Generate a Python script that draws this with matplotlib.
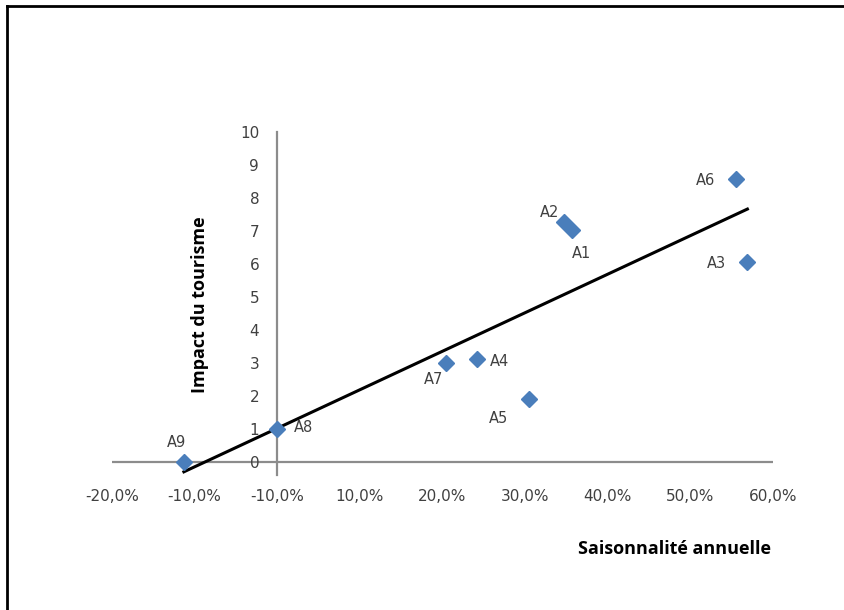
import matplotlib
matplotlib.use("Agg")
import matplotlib.pyplot as plt
from matplotlib.lines import Line2D
import numpy as np

plt.rcParams['font.family'] = ['DejaVu Sans']

names = ["A1", "A2", "A3", "A4", "A5", "A6", "A7", "A8", "A9"]
saison = [35.7, 34.75, 56.9, 24.2, 30.5, 55.5, 20.4, 0.0, -11.3]   # %
impact = [7.03, 7.27, 6.06, 3.12, 1.9, 8.58, 3.0, 1.0, 0.0]
label_offsets = {  # points
    "A1": (7, -17), "A2": (-11, 7), "A3": (-22, -1), "A4": (16, -2),
    "A5": (-22, -14), "A6": (-22, -1), "A7": (-9, -12), "A8": (19, 1),
    "A9": (-5, 14),
}
xticks = [-20, -10, 0, 10, 20, 30, 40, 50, 60]
xticklabels = ["-20,0%", "-10,0%", "-10,0%", "10,0%", "20,0%", "30,0%",
               "40,0%", "50,0%", "60,0%"]
yticks = list(range(0, 11))

W, H = 844, 610
fig = plt.figure(figsize=(W / 100, H / 100), dpi=100)
ax = fig.add_axes([112 / W, 1 - 475 / H, 661 / W, 343 / H])
ax.set_xlim(-20, 60)
ax.set_ylim(-0.4, 10)

axis_col = "#8c8c8c"
tick_col = "#404040"
for s in ["top", "right", "bottom"]:
    ax.spines[s].set_visible(False)
ax.spines["left"].set_position(("data", 0))
ax.spines["left"].set_color(axis_col)
ax.spines["left"].set_linewidth(1.6)
ax.axhline(0, color=axis_col, lw=1.6, zorder=1)

ax.set_xticks(xticks)
ax.set_xticklabels(xticklabels)
ax.set_yticks(yticks)
ax.tick_params(axis="x", length=0, pad=10, labelsize=11, labelcolor=tick_col)
ax.tick_params(axis="y", length=0, pad=13, labelsize=11, labelcolor=tick_col)

# trend line (linear regression)
x = np.array(saison)
y = np.array(impact)
a, b = np.polyfit(x, y, 1)
xl = np.array([x.min(), x.max()])
ax.plot(xl, a * xl + b, color="black", lw=2.2, zorder=2)

ax.plot(x, y, linestyle="none", marker="D", ms=8, color="#4a7ebb",
        markeredgecolor="#4a7ebb", zorder=3, clip_on=False)
for n, xv, yv in zip(names, saison, impact):
    dx, dy = label_offsets[n]
    ax.annotate(n, (xv, yv), xytext=(dx, dy), textcoords="offset points",
                ha="center", va="center", fontsize=10.5, color=tick_col)

title_font = ['Open Sans', 'DejaVu Sans']
fig.text(200 / W, 1 - 305 / H, "Impact du tourisme", rotation=90,
         ha="center", va="center", fontsize=13, fontweight="bold",
         color="black", family=title_font)
fig.text(771 / W, 1 - 549 / H, "Saisonnalité annuelle",
         ha="right", va="center", fontsize=13, fontweight="bold",
         color="black", family=title_font)

# outer frame (top and left edges visible)
fig.add_artist(Line2D([7 / W, 1], [1 - 6 / H, 1 - 6 / H], color="black", lw=2,
                      transform=fig.transFigure))
fig.add_artist(Line2D([7 / W, 7 / W], [0, 1 - 6 / H], color="black", lw=2,
                      transform=fig.transFigure))

fig.savefig("out.png", dpi=100, facecolor="white")
